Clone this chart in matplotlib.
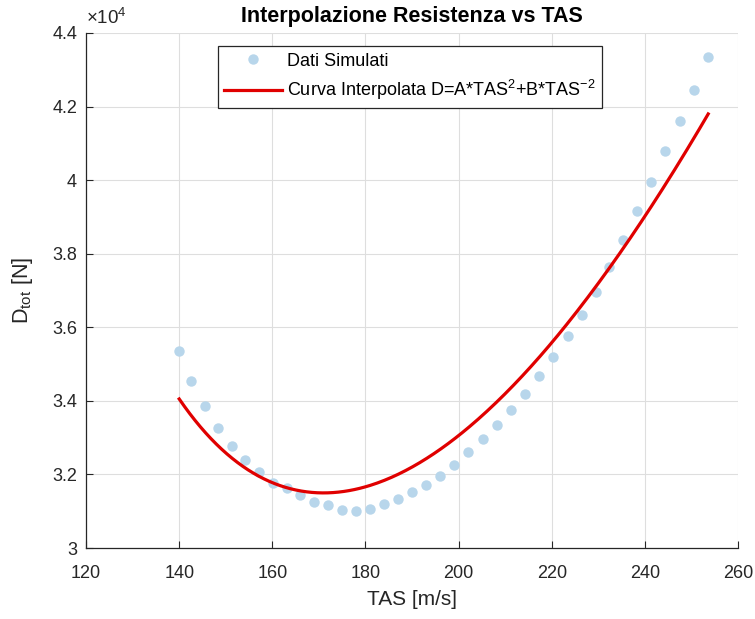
import numpy as np
import matplotlib
matplotlib.use('Agg')
import matplotlib.pyplot as plt
from matplotlib.ticker import FuncFormatter

# -------------------------------------------------------------------------------------------------------------------- #
# DATA

tas = [140.0, 142.6, 145.5, 148.4, 151.3, 154.2, 157.2, 160.1, 163.1, 166.0,
       169.0, 171.9, 174.9, 177.9, 180.9, 183.9, 187.0, 190.0, 193.0, 196.1,
       199.1, 202.1, 205.3, 208.2, 211.2, 214.2, 217.3, 220.3, 223.4, 226.4,
       229.5, 232.4, 235.3, 238.4, 241.4, 244.4, 247.5, 250.5, 253.6]
drag = [35350, 34540, 33850, 33260, 32780, 32390, 32070, 31770, 31630, 31440,
        31260, 31170, 31030, 31010, 31070, 31190, 31330, 31520, 31710, 31970,
        32260, 32600, 32960, 33340, 33760, 34190, 34670, 35200, 35770, 36340,
        36960, 37630, 38360, 39160, 39950, 40780, 41600, 42460, 43360]

# interpolation coefficients D = A*TAS^2 + B*TAS^-2
coef_a = 0.5386
coef_b = 4.605e8

x_ticks = [120, 140, 160, 180, 200, 220, 240, 260]
y_ticks = [30000, 32000, 34000, 36000, 38000, 40000, 42000, 44000]

# -------------------------------------------------------------------------------------------------------------------- #
# PLOT

plt.rcParams['font.family'] = ['Liberation Sans', 'DejaVu Sans']
plt.rcParams['mathtext.fontset'] = 'custom'
plt.rcParams['mathtext.rm'] = 'Liberation Sans'
plt.rcParams['mathtext.it'] = 'Liberation Sans'

fig = plt.figure(figsize=(7.55, 6.19), dpi=100)
ax = fig.add_axes([0.114, 0.1147, 0.8635, 0.832])

v = np.linspace(tas[0], tas[-1], 300)
d_fit = coef_a * v ** 2 + coef_b * v ** -2

ax.plot(tas, drag, 'o', color='#b8d6eb', markersize=7.5, markeredgewidth=0, label='Dati Simulati')
ax.plot(v, d_fit, '-', color='#e00000', linewidth=2.3,
        label=r'Curva Interpolata D=A*TAS$^{2}$+B*TAS$^{-2}$')

ax.set_xlim(120, 260)
ax.set_ylim(30000, 44000)
ax.set_xticks(x_ticks)
ax.set_yticks(y_ticks)
ax.yaxis.set_major_formatter(FuncFormatter(lambda val, pos: '%g' % (val / 1e4)))

ax.grid(True, color='#dedede', linewidth=0.8)
ax.set_axisbelow(True)
for s in ['top', 'right']:
    ax.spines[s].set_visible(False)
for s in ['left', 'bottom']:
    ax.spines[s].set_color('#262626')
    ax.spines[s].set_linewidth(0.9)
ax.tick_params(direction='in', length=5, width=0.8, colors='#262626', labelsize=13)
ax.tick_params(axis='x', pad=12)
ax.tick_params(axis='y', pad=6.5)

ax.text(0.0, 1.01, r'$\times10^{4}$', transform=ax.transAxes, fontsize=13.5, color='#262626',
        ha='left', va='bottom')

ax.set_title('Interpolazione Resistenza vs TAS', fontsize=15.5, fontweight='bold', pad=8)
ax.set_xlabel('TAS [m/s]', fontsize=15, color='#262626', labelpad=6)
ax.set_ylabel(r'D$_{\rm tot}$ [N]', fontsize=15.5, color='#262626', labelpad=12)

leg = ax.legend(loc='upper left', bbox_to_anchor=(0.2025, 0.974), fontsize=13, frameon=True, fancybox=False,
                edgecolor='#262626', framealpha=1, borderpad=0.35, borderaxespad=0, handlelength=3.2,
                handletextpad=0.25, labelspacing=0.45)
leg.get_frame().set_linewidth(0.9)

fig.savefig('out.png', dpi=100)
